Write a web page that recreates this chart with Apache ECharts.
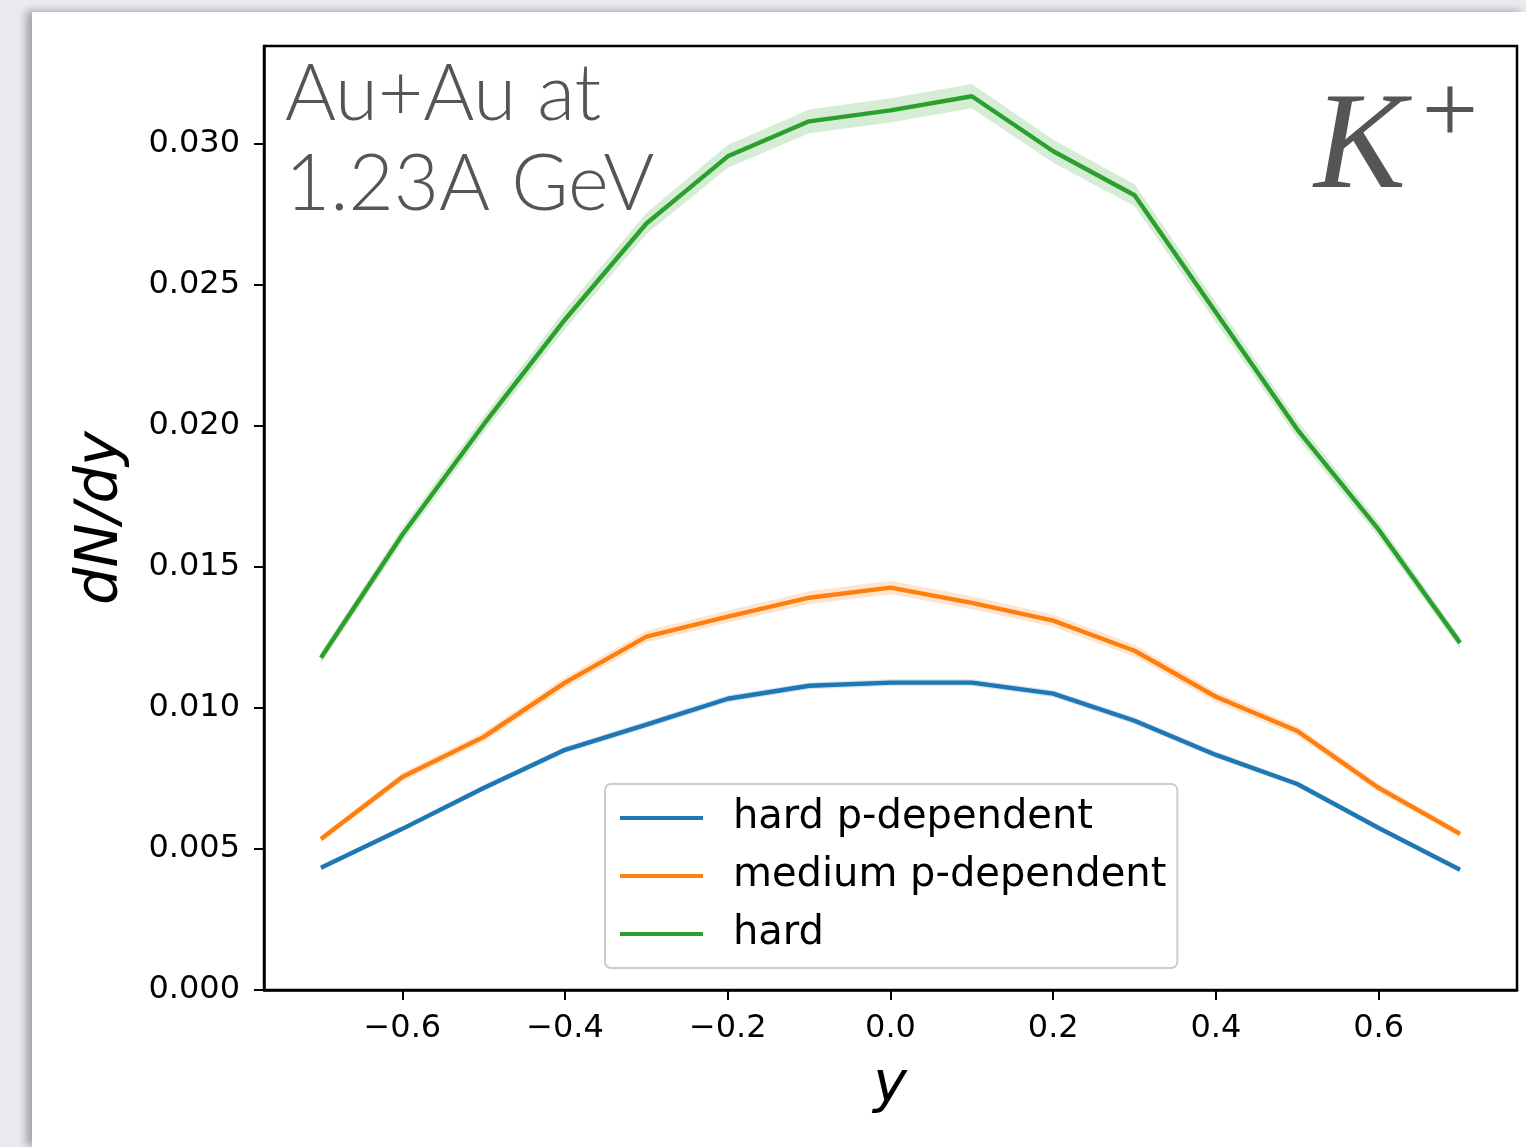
<!DOCTYPE html>
<html>
<head>
<meta charset="utf-8">
<script src="https://cdn.jsdelivr.net/npm/echarts@6/dist/echarts.min.js"></script>
<style>
  html, body { margin:0; padding:0; width:1526px; height:1147px; overflow:hidden; background:#e9ebee; }
  #page { position:absolute; left:32px; top:12px; width:1494px; height:1135px; background:#ffffff;
          box-shadow: -6px -1px 8px rgba(0,0,0,0.30); }
  #chart { position:absolute; left:0; top:0; width:1526px; height:1147px; }
</style>
</head>
<body>
<div id="page"></div>
<div id="chart"></div>
<script>
// ---- data ----
const rapidity = [-0.7,-0.6,-0.5,-0.4,-0.3,-0.2,-0.1,0.0,0.1,0.2,0.3,0.4,0.5,0.6,0.7];
const hardPDep   = [0.00433,0.00571,0.00716,0.00851,0.00940,0.01032,0.01078,0.01089,0.01089,0.01050,0.00954,0.00833,0.00730,0.00574,0.00426];
const hardPDepErr= [0.00008,0.00009,0.00010,0.00011,0.00012,0.00012,0.00012,0.00012,0.00012,0.00012,0.00012,0.00011,0.00010,0.00009,0.00008];
const mediumPDep = [0.00535,0.00755,0.00897,0.01089,0.01252,0.01323,0.01390,0.01426,0.01372,0.01309,0.01202,0.01039,0.00918,0.00716,0.00553];
const mediumPDepErr=[0.00012,0.00015,0.00017,0.00019,0.00021,0.00022,0.00023,0.00024,0.00023,0.00022,0.00021,0.00019,0.00017,0.00015,0.00012];
const hard       = [0.01177,0.01613,0.02004,0.02376,0.02716,0.02954,0.03078,0.03117,0.03167,0.02972,0.02816,0.02401,0.01986,0.01631,0.01230];
const hardErr    = [0.00020,0.00026,0.00030,0.00034,0.00037,0.00040,0.00042,0.00043,0.00043,0.00041,0.00039,0.00035,0.00031,0.00027,0.00020];
const seriesNames = ['hard p-dependent','medium p-dependent','hard'];
const colors = ['#1f77b4','#ff7f0e','#2ca02c'];
const bandColors = ['rgba(31,119,180,0.2)','rgba(255,127,14,0.2)','rgba(44,160,44,0.2)'];
const xTicks = [-0.6,-0.4,-0.2,0.0,0.2,0.4,0.6];
const yTicks = [0.000,0.005,0.010,0.015,0.020,0.025,0.030];

const values = [hardPDep, mediumPDep, hard];
const errs = [hardPDepErr, mediumPDepErr, hardErr];

function bandSeries(i) {
  const v = values[i], e = errs[i];
  return {
    type: 'custom',
    name: 'band' + i,
    silent: true,
    z: 1,
    data: [[rapidity[0], v[0]]],
    renderItem: function (params, api) {
      const pts = [];
      for (let k = 0; k < rapidity.length; k++) pts.push(api.coord([rapidity[k], v[k] + e[k]]));
      for (let k = rapidity.length - 1; k >= 0; k--) pts.push(api.coord([rapidity[k], v[k] - e[k]]));
      return { type: 'polygon', shape: { points: pts }, style: { fill: bandColors[i], stroke: null } };
    }
  };
}
function lineSeries(i) {
  return {
    type: 'line',
    name: seriesNames[i],
    data: rapidity.map((x, k) => [x, values[i][k]]),
    showSymbol: false,
    symbol: 'none',
    lineStyle: { color: colors[i], width: 4.4 },
    itemStyle: { color: colors[i] },
    z: 3
  };
}
const fmtMinus = s => s.replace('-', '\u2212');

const chart = echarts.init(document.getElementById('chart'), null, { renderer: 'canvas' });
chart.setOption({
  animation: false,
  backgroundColor: 'transparent',
  grid: { left: 264, right: 9, top: 46, bottom: 157, show: true, borderColor: '#000', borderWidth: 2.5, backgroundColor: 'transparent' },
  xAxis: {
    type: 'value', min: -0.77, max: 0.77,
    splitLine: { show: false },
    axisLine: { show: true, onZero: false, lineStyle: { color: '#000', width: 2.5 } },
    axisTick: { show: true, length: 10, lineStyle: { color: '#000', width: 2 }, customValues: xTicks },
    axisLabel: { customValues: xTicks, formatter: v => fmtMinus(v.toFixed(1)), fontFamily: 'DejaVu Sans', fontSize: 32, color: '#000', margin: 23 }
  },
  yAxis: {
    type: 'value', min: 0, max: 0.03345,
    splitLine: { show: false },
    axisLine: { show: true, onZero: false, lineStyle: { color: '#000', width: 2.5 } },
    axisTick: { show: true, length: 10, lineStyle: { color: '#000', width: 2 }, customValues: yTicks },
    axisLabel: { customValues: yTicks, formatter: v => v.toFixed(3), fontFamily: 'DejaVu Sans', fontSize: 32, color: '#000', margin: 24, padding: [12, 0, 0, 0] }
  },
  legend: {
    data: seriesNames,
    orient: 'vertical',
    left: 605, top: 784,
    padding: [12, 11, 12, 15],
    itemWidth: 83, itemHeight: 4, itemGap: 14,
    icon: 'rect',
    backgroundColor: 'rgba(255,255,255,0.8)',
    borderColor: '#cccccc', borderWidth: 2, borderRadius: 6,
    textStyle: { fontFamily: 'DejaVu Sans', fontSize: 40, color: '#000', lineHeight: 44, padding: [0, 0, 0, 25] }
  },
  series: [bandSeries(0), bandSeries(1), bandSeries(2), lineSeries(0), lineSeries(1), lineSeries(2)],
  graphic: [
    { type: 'text', left: 285, top: 50, z: 10,
      style: { text: 'Au+Au at\n1.23A GeV', fill: '#555555', font: '300 78px Lato', lineHeight: 90 } },
    { type: 'text', x: 1314, y: 220, z: 10,
      style: { text: 'K', fill: '#555555', font: 'italic 138px "Liberation Serif"', verticalAlign: 'bottom', textAlign: 'left' } },
    { type: 'text', x: 1450, y: 117, z: 10,
      style: { text: '+', fill: '#555555', font: '100px "Liberation Serif"', verticalAlign: 'middle', textAlign: 'center' } },
    { type: 'text', x: 102, y: 518, rotation: Math.PI / 2, z: 10,
      style: { text: 'dN/dy', fill: '#000', font: 'oblique 59px "DejaVu Sans"', textAlign: 'center', verticalAlign: 'middle' } },
    { type: 'text', x: 890, y: 1086, z: 10,
      style: { text: 'y', fill: '#000', font: 'oblique 57px "DejaVu Sans"', textAlign: 'center', verticalAlign: 'middle' } }
  ]
});
</script>
</body>
</html>
